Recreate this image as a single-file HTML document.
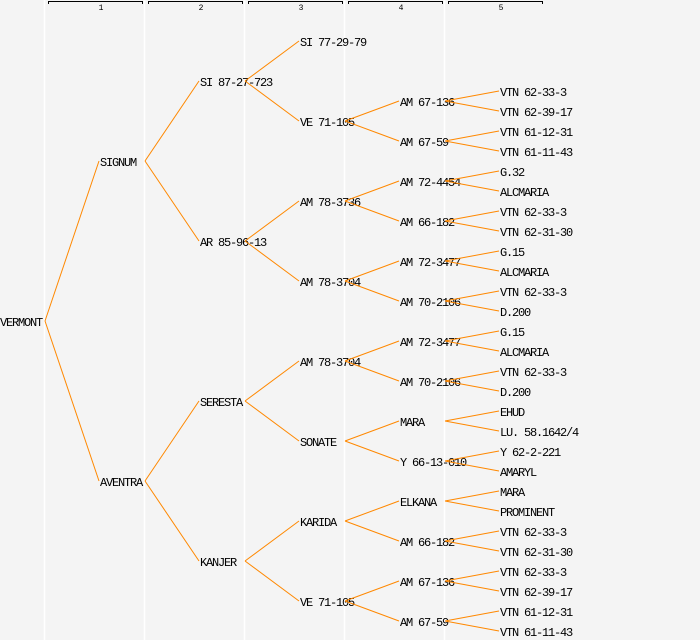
<!DOCTYPE html>
<html><head><meta charset="utf-8"><style>
html,body{margin:0;padding:0;background:#f4f4f4;}
svg{display:block}
text{font-family:"Liberation Mono",monospace;font-size:12px;letter-spacing:-1.2px;fill:#000}
.n{font-size:8px;letter-spacing:0;font-family:"Liberation Mono",monospace}
</style></head><body>
<svg width="700" height="640" xmlns="http://www.w3.org/2000/svg">
<rect width="700" height="640" fill="#f4f4f4"/>
<g stroke="#fff" stroke-width="1.5">
<line x1="44.5" y1="0" x2="44.5" y2="640"/><line x1="144.5" y1="0" x2="144.5" y2="640"/>
<line x1="244.5" y1="0" x2="244.5" y2="640"/><line x1="344.5" y1="0" x2="344.5" y2="640"/>
<line x1="444.5" y1="0" x2="444.5" y2="640"/>
</g>
<g stroke="#000" fill="none" stroke-width="1">
<path d="M48.5 4V1.5H142.5V4"/><path d="M148.5 4V1.5H242.5V4"/><path d="M248.5 4V1.5H342.5V4"/><path d="M348.5 4V1.5H442.5V4"/><path d="M448.5 4V1.5H542.5V4"/>
</g>
<text class="n" x="101" y="10" text-anchor="middle">1</text>
<text class="n" x="201" y="10" text-anchor="middle">2</text>
<text class="n" x="301" y="10" text-anchor="middle">3</text>
<text class="n" x="401" y="10" text-anchor="middle">4</text>
<text class="n" x="501" y="10" text-anchor="middle">5</text>
<g id="t"></g>
<g id="l" stroke="#ff8800" stroke-width="1" fill="none"></g>
</svg>
<script>
var T=document.getElementById('t'),L=document.getElementById('l'),NS='http://www.w3.org/2000/svg';
function tx(x,y,s){var e=document.createElementNS(NS,'text');e.setAttribute('x',x);e.setAttribute('y',y+4);e.textContent=s;T.appendChild(e);}
function ln(x1,y1,x2,y2){var e=document.createElementNS(NS,'line');e.setAttribute('x1',x1);e.setAttribute('y1',y1-1);e.setAttribute('x2',x2);e.setAttribute('y2',y2-1);L.appendChild(e);}
function node(lv,y,name,ch){tx(lv*100,y,name);if(ch){ch.forEach(function(c){ln(lv*100+45,y,(lv+1)*100-1,c[0]);node(lv+1,c[0],c[1],c[2]);});}}
node(0,322,'VERMONT',[
 [162,'SIGNUM',[
  [82,'SI 87-27-723',[
   [42,'SI 77-29-79'],
   [122,'VE 71-105',[
    [102,'AM 67-136',[[92,'VTN 62-33-3'],[112,'VTN 62-39-17']]],
    [142,'AM 67-59',[[132,'VTN 61-12-31'],[152,'VTN 61-11-43']]]]]]],
  [242,'AR 85-96-13',[
   [202,'AM 78-3736',[
    [182,'AM 72-4454',[[172,'G.32'],[192,'ALCMARIA']]],
    [222,'AM 66-182',[[212,'VTN 62-33-3'],[232,'VTN 62-31-30']]]]],
   [282,'AM 78-3704',[
    [262,'AM 72-3477',[[252,'G.15'],[272,'ALCMARIA']]],
    [302,'AM 70-2106',[[292,'VTN 62-33-3'],[312,'D.200']]]]]]]]],
 [482,'AVENTRA',[
  [402,'SERESTA',[
   [362,'AM 78-3704',[
    [342,'AM 72-3477',[[332,'G.15'],[352,'ALCMARIA']]],
    [382,'AM 70-2106',[[372,'VTN 62-33-3'],[392,'D.200']]]]],
   [442,'SONATE',[
    [422,'MARA',[[412,'EHUD'],[432,'LU. 58.1642/4']]],
    [462,'Y 66-13-010',[[452,'Y 62-2-221'],[472,'AMARYL']]]]]]],
  [562,'KANJER',[
   [522,'KARIDA',[
    [502,'ELKANA',[[492,'MARA'],[512,'PROMINENT']]],
    [542,'AM 66-182',[[532,'VTN 62-33-3'],[552,'VTN 62-31-30']]]]],
   [602,'VE 71-105',[
    [582,'AM 67-136',[[572,'VTN 62-33-3'],[592,'VTN 62-39-17']]],
    [622,'AM 67-59',[[612,'VTN 61-12-31'],[632,'VTN 61-11-43']]]]]]]]]]);
</script>
</body></html>
